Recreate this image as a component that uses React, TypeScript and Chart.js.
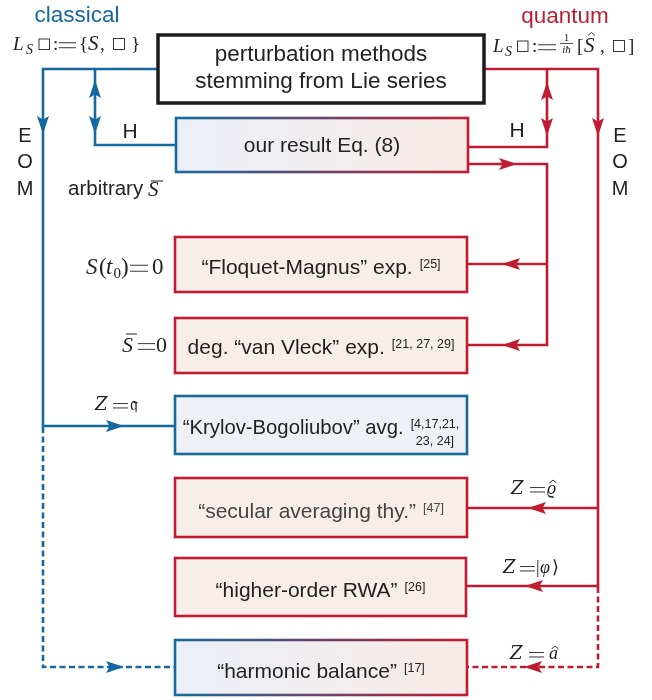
import React, { useEffect, useRef } from "react";
import { Chart, registerables } from "chart.js";
Chart.register(...registerables);

// ---------------- data (values in the diagram's own coordinate space) ----------------
const boxNames = [
  "perturbation methods|stemming from Lie series",
  "our result Eq. (8)",
  "\u201CFloquet-Magnus\u201D exp.",
  "deg. \u201Cvan Vleck\u201D exp.",
  "\u201CKrylov-Bogoliubov\u201D avg.",
  "\u201Csecular averaging thy.\u201D",
  "\u201Chigher-order RWA\u201D",
  "\u201Charmonic balance\u201D",
];
const boxRefs = ["", "", "[25]", "[21, 27, 29]", "[4,17,21,|23, 24]", "[47]", "[26]", "[17]"];
const boxKinds = ["title", "mixed", "quantum", "quantum", "classical", "quantum", "quantum", "mixed"];
const boxX0 = [158, 176, 175, 175, 175, 175, 175, 175];
const boxX1 = [484, 468, 467, 467, 467, 467, 466, 467];
const boxY0 = [35, 118, 237, 318, 396, 478, 558, 640];
const boxY1 = [103, 172, 292, 373, 454, 537, 616, 695];
const boxTextY = [61, 152, 274, 354, 434, 518, 597, 678];

type P = { x: number; y: number };
const classicalSolid: P[][] = [
  [{ x: 158, y: 69 }, { x: 43, y: 69 }, { x: 43, y: 426 }, { x: 175, y: 426 }],
  [{ x: 95, y: 69 }, { x: 95, y: 145 }, { x: 176, y: 145 }],
];
const classicalDashed: P[][] = [[{ x: 43, y: 427 }, { x: 43, y: 667 }, { x: 175, y: 667 }]];
const quantumSolid: P[][] = [
  [{ x: 484, y: 69 }, { x: 598, y: 69 }, { x: 598, y: 586 }, { x: 466, y: 586 }],
  [{ x: 598, y: 508 }, { x: 467, y: 508 }],
  [{ x: 547, y: 69 }, { x: 547, y: 147 }, { x: 468, y: 147 }],
  [{ x: 468, y: 164 }, { x: 547, y: 164 }, { x: 547, y: 345 }, { x: 467, y: 345 }],
  [{ x: 547, y: 264 }, { x: 467, y: 264 }],
];
const quantumDashed: P[][] = [[{ x: 598, y: 587 }, { x: 598, y: 667 }, { x: 467, y: 667 }]];

// arrow heads: position and direction (degrees clockwise from "up")
const blueArrowX = [43, 95, 95, 115, 115];
const blueArrowY = [125, 89, 125, 426, 667];
const blueArrowDir = [180, 0, 180, 90, 90];
const redArrowX = [547, 547, 598, 508, 511, 511, 537, 534, 533];
const redArrowY = [91, 127, 127, 164, 264, 345, 508, 586, 667];
const redArrowDir = [0, 180, 180, 90, 270, 270, 270, 270, 270];

// ---------------- styles ----------------
const BLUE = "#16699f";
const RED = "#c01c31";
const INK = "#222222";
const SANS = '"Liberation Sans", Arial, Helvetica, sans-serif';
const SERIF = '"Liberation Serif", "DejaVu Serif", serif';
const it = (s: number) => `italic ${s}px ${SERIF}`;
const rm = (s: number) => `${s}px ${SERIF}`;
const sans = (s: number) => `${s}px ${SANS}`;
const ZF = 'italic 18px "DejaVu Serif", serif';

function makeArrow(color: string) {
  const c = document.createElement("canvas");
  c.width = 12;
  c.height = 18;
  const g = c.getContext("2d")!;
  g.fillStyle = color;
  g.beginPath();
  g.moveTo(6, 0);
  g.lineTo(12, 18);
  g.lineTo(6, 14.5);
  g.lineTo(0, 18);
  g.closePath();
  g.fill();
  return c;
}

const diagramPlugin = {
  id: "diagram",
  afterDatasetsDraw(chart: any) {
    const ctx: CanvasRenderingContext2D = chart.ctx;
    const sx = chart.scales.x;
    const sy = chart.scales.y;
    const X = (v: number) => sx.getPixelForValue(v);
    const Y = (v: number) => sy.getPixelForValue(v);

    const txt = (t: string, font: string, x: number, y: number, align: CanvasTextAlign = "left", color = INK) => {
      ctx.save();
      ctx.font = font;
      ctx.fillStyle = color;
      ctx.textAlign = align;
      ctx.textBaseline = "alphabetic";
      ctx.fillText(t, X(x), Y(y));
      ctx.restore();
    };
    const seg = (x0: number, y0: number, x1: number, y1: number, w = 0.9, color = INK) => {
      ctx.save();
      ctx.strokeStyle = color;
      ctx.lineWidth = w;
      ctx.beginPath();
      ctx.moveTo(X(x0), Y(y0));
      ctx.lineTo(X(x1), Y(y1));
      ctx.stroke();
      ctx.restore();
    };
    const eq = (x0: number, x1: number, base: number, size: number) => {
      const c = base - size * 0.25;
      seg(x0, c - size * 0.13, x1, c - size * 0.13, 0.9);
      seg(x0, c + size * 0.13, x1, c + size * 0.13, 0.9);
    };
    const hat = (cx: number, top: number) => {
      ctx.save();
      ctx.strokeStyle = INK;
      ctx.lineWidth = 0.9;
      ctx.beginPath();
      ctx.moveTo(X(cx - 3.5), Y(top + 3));
      ctx.lineTo(X(cx), Y(top));
      ctx.lineTo(X(cx + 3.5), Y(top + 3));
      ctx.stroke();
      ctx.restore();
    };
    const sq = (x: number, base: number, s: number) => {
      ctx.save();
      ctx.strokeStyle = INK;
      ctx.lineWidth = 0.9;
      ctx.strokeRect(X(x) + 0.5, Y(base - s) + 0.5, s - 1, s - 1);
      ctx.restore();
    };

    // boxes
    boxNames.forEach((name, i) => {
      const x0 = X(boxX0[i]), x1 = X(boxX1[i]), y0 = Y(boxY0[i]), y1 = Y(boxY1[i]);
      const kind = boxKinds[i];
      ctx.save();
      if (kind === "title") {
        ctx.fillStyle = "#ffffff";
        ctx.strokeStyle = "#1b1b1b";
        ctx.lineWidth = 3.5;
      } else if (kind === "quantum") {
        ctx.fillStyle = "#f7ede9";
        ctx.strokeStyle = RED;
        ctx.lineWidth = 2.6;
      } else if (kind === "classical") {
        ctx.fillStyle = "#eef0f6";
        ctx.strokeStyle = BLUE;
        ctx.lineWidth = 2.6;
      } else {
        const gf = ctx.createLinearGradient(x0, 0, x1, 0);
        gf.addColorStop(0, "#ebeff7");
        gf.addColorStop(1, "#f7ebe7");
        ctx.fillStyle = gf;
        const gs = ctx.createLinearGradient(x0, 0, x1, 0);
        gs.addColorStop(0, BLUE);
        gs.addColorStop(1, RED);
        ctx.strokeStyle = gs;
        ctx.lineWidth = 2.6;
      }
      ctx.fillRect(x0, y0, x1 - x0, y1 - y0);
      ctx.strokeRect(x0, y0, x1 - x0, y1 - y0);
      ctx.restore();

      const cv = (boxX0[i] + boxX1[i]) / 2;
      const by = boxTextY[i];
      const col = i === 5 ? "#454545" : INK;
      if (kind === "title") {
        const lines = name.split("|");
        txt(lines[0], sans(22.5), cv, by, "center");
        txt(lines[1], sans(22.5), cv, by + 27, "center");
        return;
      }
      const ref = boxRefs[i];
      const RF = sans(12.5);
      const refLines = ref ? ref.split("|") : [];
      const MF = sans(refLines.length > 1 ? 20.3 : 21);
      if (!ref) {
        txt(name, MF, cv, by, "center", col);
        return;
      }
      const GAP = 7;
      ctx.font = MF;
      const mw = ctx.measureText(name).width;
      ctx.font = RF;
      const rw = Math.max(...refLines.map((s) => ctx.measureText(s).width));
      const total = mw + GAP + rw;
      const s0 = cv - total / 2;
      txt(name, MF, s0, by, "left", col);
      if (refLines.length === 1) {
        txt(refLines[0], RF, s0 + mw + GAP, by - 6, "left", col);
      } else {
        const rc = s0 + mw + GAP + rw / 2;
        txt(refLines[0], RF, rc, by - 6, "center", col);
        txt(refLines[1], RF, rc, by + 11, "center", col);
      }
    });

    // headers
    txt("classical", sans(22.5), 77, 22, "center", BLUE);
    txt("quantum", sans(22.5), 565, 23, "center", RED);

    // classical Lie operator
    txt("L", it(19), 13, 50);
    txt("S", it(14), 26, 54);
    sq(38.5, 50, 11.5);
    txt(":", rm(19), 53, 50);
    eq(59, 76, 50, 19);
    txt("{", rm(19), 79, 50);
    txt("S", it(21), 88, 50);
    txt(",", rm(19), 100, 50);
    sq(113, 50, 12);
    txt("}", rm(19), 131, 50);

    // quantum Lie operator
    txt("L", it(19), 493, 52);
    txt("S", it(14), 505, 56);
    sq(517, 52, 11.5);
    txt(":", rm(19), 532, 52);
    eq(538, 556, 52, 19);
    txt("1", rm(11), 566.5, 41, "center");
    seg(560, 43.5, 573, 43.5, 0.8);
    txt("i\u0127", it(11), 566.5, 53, "center");
    txt("[", rm(19), 577, 52);
    txt("S", it(21), 584, 52);
    hat(591.5, 32.5);
    txt(",", rm(19), 600, 52);
    sq(613, 52, 12);
    txt("]", rm(19), 628, 52);

    // H labels
    txt("H", sans(21), 130, 138, "center");
    txt("H", sans(21), 517, 137, "center");

    // EOM
    ["E", "O", "M"].forEach((ch, k) => {
      const yy = [142, 168, 195][k];
      txt(ch, sans(20), 25, yy, "center");
      txt(ch, sans(20), 620, yy, "center");
    });

    // arbitrary S-bar
    txt("arbitrary", sans(20.5), 68, 195);
    txt("S", it(21), 148, 196);
    seg(151, 181, 163, 181, 1);

    // conditions
    txt("S", it(23), 86, 274);
    txt("(", rm(23), 99, 274);
    txt("t", it(23), 106, 274);
    txt("0", rm(15), 113.5, 278);
    txt(")", rm(23), 121, 274);
    eq(130, 148, 274, 23);
    txt("0", rm(23), 152, 274);

    txt("S", it(22), 122, 352);
    seg(126, 334, 137, 334, 1);
    eq(138, 155, 352, 22);
    txt("0", rm(22), 156, 352);

    // Z labels
    const zeq = (zx: number, e0: number, e1: number, base: number) => {
      txt("Z", ZF, zx, base);
      eq(e0, e1, base, 17);
    };
    zeq(95, 113, 128, 410);
    txt("\u{1D52E}", rm(18), 130, 410);

    zeq(511, 530, 545, 494);
    txt("\u03F1", it(18), 547, 494);
    hat(553, 480);

    zeq(503, 520, 535, 573);
    txt("|", rm(18), 536, 573);
    txt("\u03C6", it(18), 540, 573);
    txt("\u27E9", rm(18), 552, 573);

    zeq(510, 529, 544, 659);
    txt("a", it(18), 549, 659);
    hat(555, 646);
  },
};

export default function App() {
  const ref = useRef<HTMLCanvasElement | null>(null);
  useEffect(() => {
    if (!ref.current) return;
    const blueArrow = makeArrow(BLUE);
    const redArrow = makeArrow(RED);
    const lineSet = (pts: P[], color: string, dashed: boolean) => ({
      data: pts,
      showLine: true,
      borderColor: color,
      backgroundColor: color,
      borderWidth: 2.6,
      borderDash: dashed ? [6, 3.5] : [],
      borderJoinStyle: "miter" as const,
      borderCapStyle: "butt" as const,
      pointRadius: 0,
      tension: 0,
      fill: false,
      clip: false as any,
    });
    const arrowSet = (xs: number[], ys: number[], dirs: number[], img: HTMLCanvasElement) => ({
      data: xs.map((x, i) => ({ x, y: ys[i] })),
      showLine: false,
      pointStyle: img as any,
      rotation: dirs,
      pointRadius: 8,
      clip: false as any,
    });
    const datasets: any[] = [
      ...classicalSolid.map((p) => lineSet(p, BLUE, false)),
      ...classicalDashed.map((p) => lineSet(p, BLUE, true)),
      ...quantumSolid.map((p) => lineSet(p, RED, false)),
      ...quantumDashed.map((p) => lineSet(p, RED, true)),
      arrowSet(blueArrowX, blueArrowY, blueArrowDir, blueArrow),
      arrowSet(redArrowX, redArrowY, redArrowDir, redArrow),
    ];
    const chart = new Chart(ref.current, {
      type: "scatter",
      data: { datasets },
      options: {
        animation: false,
        responsive: false,
        events: [],
        layout: { padding: 0, autoPadding: false },
        plugins: { legend: { display: false }, tooltip: { enabled: false } },
        scales: {
          x: { type: "linear", min: 0, max: 652, display: false },
          y: { type: "linear", min: 0, max: 700, reverse: true, display: false },
        },
      },
      plugins: [diagramPlugin],
    });
    return () => chart.destroy();
  }, []);
  return (
    <div style={{ position: "absolute", left: 0, top: 0, width: 652, height: 700, background: "#fff" }}>
      <canvas ref={ref} width={652} height={700} style={{ display: "block" }} />
    </div>
  );
}
